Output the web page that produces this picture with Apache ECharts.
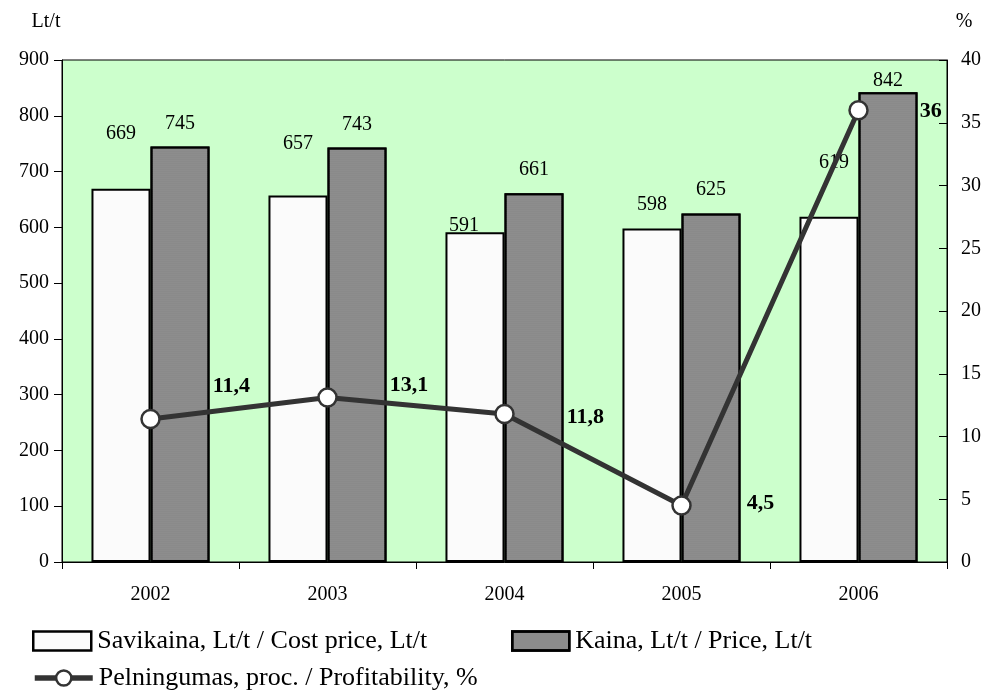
<!DOCTYPE html>
<html>
<head>
<meta charset="utf-8">
<script src="https://cdn.jsdelivr.net/npm/echarts@6/dist/echarts.min.js"></script>
<style>
html,body{margin:0;padding:0;background:#fff;}
#c{width:986px;height:690px;}
</style>
</head>
<body>
<div id="c"></div>
<script>
// ---- data ----
const years = ['2002', '2003', '2004', '2005', '2006'];
const costPrice = [669, 657, 591, 598, 619];
const price = [745, 743, 661, 625, 842];
const profitability = [11.4, 13.1, 11.8, 4.5, 36];
const profitLabels = ['11,4', '13,1', '11,8', '4,5', '36'];
const seriesNames = ['Savikaina, Lt/t / Cost price, Lt/t', 'Kaina, Lt/t / Price, Lt/t', 'Pelningumas, proc. / Profitability, %'];

// ---- label placement (style only) ----
const costLabelDist = [45, 42, -3, 14, 44];
const costLabelDx = [0, 0, -11, 0, 5];
const priceLabelDist = [13, 13, 14, 14, 2];
const profitLabelOff = [[47, -33], [47, -12], [47, 3], [50, -2], [46, 1]];

const FONT = 'Liberation Serif';
const chart = echarts.init(document.getElementById('c'));

const legendText = {fontFamily: FONT, fontSize: 26, color: '#000', padding: [0, 0, 0, 1]};

const option = {
  animation: false,
  backgroundColor: '#ffffff',
  textStyle: {fontFamily: FONT, color: '#000'},
  grid: {left: 62, right: 39, top: 60, bottom: 128, show: true, backgroundColor: '#ccffcc', borderColor: '#000', borderWidth: 1},
  legend: [
    {data: [{name: seriesNames[0], icon: 'rect'}], left: 27, top: 623, itemWidth: 58, itemHeight: 19, itemGap: 0,
     itemStyle: {borderWidth: 2.5, borderColor: '#000'}, textStyle: legendText},
    {data: [{name: seriesNames[1], icon: 'rect'}], left: 506, top: 623, itemWidth: 57, itemHeight: 19, itemGap: 0,
     itemStyle: {borderWidth: 2.5, borderColor: '#000'}, textStyle: legendText},
    {data: [seriesNames[2]], left: 27, top: 660, itemWidth: 58, itemHeight: 19, itemGap: 0,
     lineStyle: {width: 5.5, color: '#333333'}, itemStyle: {color: '#ffffff', borderColor: '#333333', borderWidth: 2.5},
     textStyle: legendText}
  ],
  xAxis: {
    type: 'category', data: years, boundaryGap: true,
    axisLine: {lineStyle: {color: '#000', width: 1}},
    axisTick: {show: true, length: 7, inside: false, lineStyle: {color: '#000'}},
    axisLabel: {fontFamily: FONT, fontSize: 20, color: '#000', margin: 23},
    splitLine: {show: false}
  },
  yAxis: [
    {
      type: 'value', min: 0, max: 900, interval: 100, name: 'Lt/t', nameLocation: 'end', nameGap: 28,
      nameTextStyle: {fontFamily: FONT, fontSize: 20, color: '#000', align: 'center', padding: [0, 0, 0, -32]},
      axisLine: {show: true, lineStyle: {color: '#000'}},
      axisTick: {show: true, length: 8, lineStyle: {color: '#000'}},
      axisLabel: {fontFamily: FONT, fontSize: 20, color: '#000', margin: 13},
      splitLine: {show: false}
    },
    {
      type: 'value', min: 0, max: 40, interval: 5, name: '%', nameLocation: 'end', nameGap: 28,
      nameTextStyle: {fontFamily: FONT, fontSize: 20, color: '#000', align: 'center', padding: [0, 0, 0, 34]},
      position: 'right',
      axisLine: {show: true, lineStyle: {color: '#000'}},
      axisTick: {show: true, inside: true, length: 8, lineStyle: {color: '#000'}},
      axisLabel: {fontFamily: FONT, fontSize: 20, color: '#000', margin: 14},
      splitLine: {show: false}
    }
  ],
  series: [
    {
      name: seriesNames[0], type: 'bar', yAxisIndex: 0, barGap: '0%', barCategoryGap: '33.3%',
      itemStyle: {color: '#fbfbfb', borderColor: '#000', borderWidth: 2},
      data: costPrice.map((v, i) => ({value: v, label: {distance: costLabelDist[i], offset: [costLabelDx[i], 0]}})),
      label: {show: true, position: 'top', fontFamily: FONT, fontSize: 20, color: '#000'}
    },
    {
      name: seriesNames[1], type: 'bar', yAxisIndex: 0,
      itemStyle: {color: '#8a8a8a', borderColor: '#000', borderWidth: 2,
        decal: {symbol: 'rect', symbolSize: 0.5, dashArrayX: [1, 0], dashArrayY: [1, 1], color: 'rgba(180,180,180,0.35)', rotation: 0}},
      data: price.map((v, i) => ({value: v, label: {distance: priceLabelDist[i]}})),
      label: {show: true, position: 'top', fontFamily: FONT, fontSize: 20, color: '#000'}
    },
    {
      name: seriesNames[2], type: 'line', yAxisIndex: 1, z: 5,
      symbol: 'circle', symbolSize: 18,
      lineStyle: {color: '#333333', width: 5},
      itemStyle: {color: '#ffffff', borderColor: '#333333', borderWidth: 2.5},
      data: profitability.map((v, i) => ({value: v, label: {offset: profitLabelOff[i], formatter: profitLabels[i]}})),
      label: {show: true, position: 'right', fontFamily: FONT, fontSize: 22, fontWeight: 'bold', color: '#000'}
    }
  ]
};
chart.setOption(option);
</script>
</body>
</html>
